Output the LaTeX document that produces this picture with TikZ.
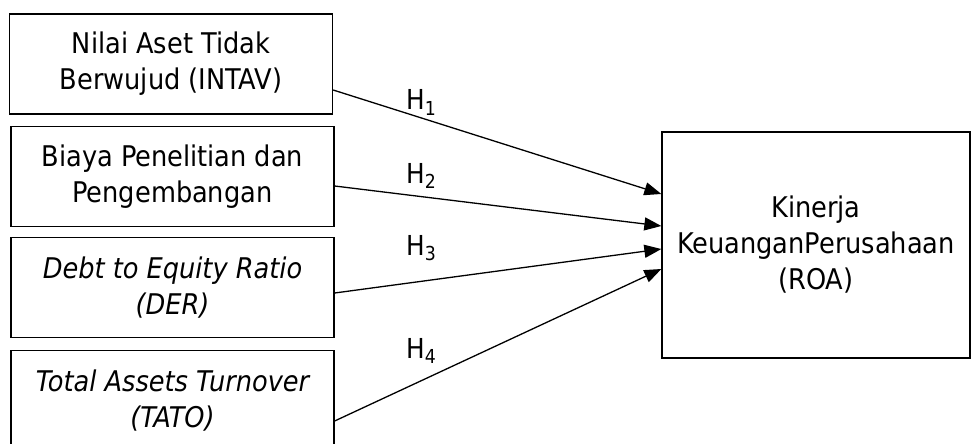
\documentclass[tikz,border=0pt]{standalone}
\usepackage{fontspec}
\setmainfont{DejaVu Sans Condensed}
\usetikzlibrary{arrows.meta,calc}
\begin{document}
\begin{tikzpicture}[x=1pt,y=-1pt,
  varbox/.style={draw,line width=1.3pt,minimum width=323pt,minimum height=100pt,align=center,inner sep=0pt,
    font=\fontsize{28.5}{36}\selectfont},
  hyp/.style={anchor=base west,inner sep=0pt,font=\fontsize{27.5}{30}\selectfont},
  link/.style={line width=1.3pt,-{Triangle[length=17pt,width=13pt]}}]
\useasboundingbox (0,0) rectangle (972,444);
\node[varbox] (b1) at (171,64) {Nilai Aset Tidak\\Berwujud (INTAV)};
\node[varbox] (b2) at (172.5,176.5) {Biaya Penelitian dan\\Pengembangan};
\node[varbox] (b3) at (172.5,287.5) {\itshape Debt to Equity Ratio\\\itshape (DER)};
\node[varbox] (b4) at (172.5,400.5) {\itshape Total Assets Turnover\\\itshape (TATO)};
\node[varbox,minimum width=308pt,minimum height=226pt] (roa) at (816,245) {Kinerja\\KeuanganPerusahaan\\(ROA)};
\node[hyp] (h1) at (406,110) {H\textsubscript{1}};
\node[hyp] (h2) at (406,183) {H\textsubscript{2}};
\node[hyp] (h3) at (406,255) {H\textsubscript{3}};
\node[hyp] (h4) at (406,358) {H\textsubscript{4}};
\draw[link] ([yshift=-26pt]b1.east) -- ([yshift=51pt]roa.west);
\draw[link] ([yshift=-9.5pt]b2.east) -- ([yshift=19pt]roa.west);
\draw[link] ([yshift=-5.5pt]b3.east) -- ([yshift=-4pt]roa.west);
\draw[link] ([yshift=-20.5pt]b4.east) -- ([yshift=-24pt]roa.west);
\end{tikzpicture}
\end{document}
